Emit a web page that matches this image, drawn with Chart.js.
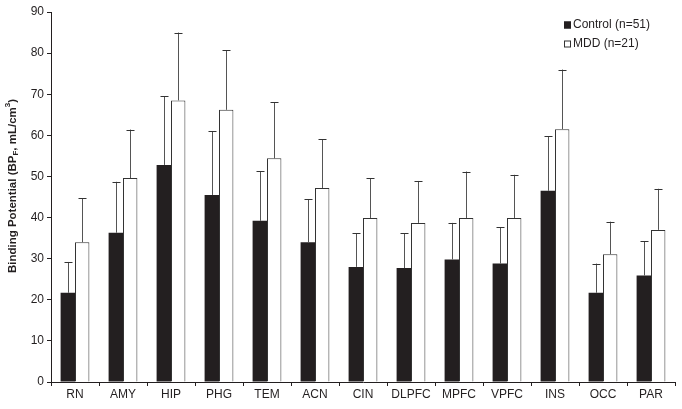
<!DOCTYPE html>
<html>
<head>
<meta charset="utf-8">
<script src="https://cdn.jsdelivr.net/npm/chart.js@4/dist/chart.umd.min.js"></script>
<style>
  html, body { margin: 0; padding: 0; background: #fff; }
  #wrap { width: 682px; height: 409px; }
</style>
</head>
<body>
<div id="wrap"><canvas id="chart" width="682" height="409"></canvas></div>
<script>
// regions and values
const regions = ['RN', 'AMY', 'HIP', 'PHG', 'TEM', 'ACN', 'CIN', 'DLPFC', 'MPFC', 'VPFC', 'INS', 'OCC', 'PAR'];
const controlMean = [21.7, 36.3, 52.8, 45.5, 39.2, 34.0, 28.0, 27.7, 29.8, 28.8, 46.5, 21.7, 25.9];
const controlSD   = [7.5, 12.4, 16.7, 15.5, 12.1, 10.4, 8.2, 8.5, 8.9, 8.8, 13.3, 7.1, 8.3];
const mddMean     = [34.0, 49.6, 68.5, 66.2, 54.4, 47.2, 39.9, 38.7, 39.9, 39.9, 61.5, 31.1, 37.0];
const mddSD       = [10.7, 11.8, 16.5, 14.5, 13.6, 11.8, 9.7, 10.2, 11.3, 10.5, 14.5, 7.9, 10.0];
const yTicks = [0, 10, 20, 30, 40, 50, 60, 70, 80, 90];

const INK = '#231f20';
const FONT = "'Liberation Sans', Arial, sans-serif";

// whiskers drawn upward from each bar top
const errorBars = {
  id: 'errorBars',
  afterDatasetsDraw(chart) {
    const ctx = chart.ctx;
    const y = chart.scales.y;
    ctx.save();
    chart.data.datasets.forEach((ds, i) => {
      const meta = chart.getDatasetMeta(i);
      meta.data.forEach((bar, j) => {
        const top = y.getPixelForValue(ds.data[j] + ds.sd[j]);
        const x = Math.round(bar.x) + 0.5;
        ctx.strokeStyle = '#555';
        ctx.lineWidth = 1;
        ctx.beginPath();
        ctx.moveTo(x, bar.y);
        ctx.lineTo(x, top);
        ctx.stroke();
        ctx.strokeStyle = '#333';
        ctx.beginPath();
        ctx.moveTo(x - 4, Math.round(top) + 0.5);
        ctx.lineTo(x + 4, Math.round(top) + 0.5);
        ctx.stroke();
      });
    });
    ctx.restore();
  }
};

// rotated y title with subscript / superscript parts
const yTitle = {
  id: 'yTitle',
  afterDraw(chart) {
    const ctx = chart.ctx;
    const parts = [
      { t: 'Binding Potential (BP', size: 11.5, dy: 0 },
      { t: 'F', size: 8, dy: 3 },
      { t: ', mL/cm', size: 11.5, dy: 0 },
      { t: '3', size: 8, dy: -5 },
      { t: ')', size: 11.5, dy: 0 },
    ];
    ctx.save();
    let total = 0;
    parts.forEach(p => {
      ctx.font = `bold ${p.size}px ${FONT}`;
      p.w = ctx.measureText(p.t).width;
      total += p.w;
    });
    ctx.translate(13, 186);
    ctx.rotate(-Math.PI / 2);
    ctx.fillStyle = INK;
    ctx.textBaseline = 'middle';
    let x = -total / 2;
    parts.forEach(p => {
      ctx.font = `bold ${p.size}px ${FONT}`;
      ctx.fillText(p.t, x, p.dy);
      x += p.w;
    });
    ctx.restore();
  }
};

// small legend in the upper right corner
const cornerLegend = {
  id: 'cornerLegend',
  afterDraw(chart) {
    const ctx = chart.ctx;
    ctx.save();
    ctx.font = `12px ${FONT}`;
    ctx.textBaseline = 'middle';
    chart.data.datasets.forEach((ds, i) => {
      const yy = 25 + i * 19;
      ctx.fillStyle = ds.backgroundColor;
      ctx.fillRect(564, yy - 3.5, 7, 7);
      ctx.strokeStyle = ds.borderColor;
      ctx.lineWidth = 1;
      ctx.strokeRect(564.5, yy - 3, 6, 6);
      ctx.fillStyle = INK;
      ctx.fillText(ds.label, 573, yy);
    });
    ctx.restore();
  }
};

new Chart(document.getElementById('chart'), {
  type: 'bar',
  data: {
    labels: regions,
    datasets: [
      {
        label: 'Control (n=51)',
        data: controlMean,
        sd: controlSD,
        backgroundColor: INK,
        borderColor: INK,
        borderWidth: 0,
      },
      {
        label: 'MDD (n=21)',
        data: mddMean,
        sd: mddSD,
        backgroundColor: '#ffffff',
        borderColor: '#333',
        borderWidth: 1,
      },
    ],
  },
  options: {
    responsive: false,
    animation: false,
    categoryPercentage: 0.6,
    barPercentage: 1.0,
    layout: { padding: { top: 12, right: 7, left: 0, bottom: 0 } },
    plugins: {
      legend: { display: false },
      tooltip: { enabled: false },
    },
    scales: {
      x: {
        grid: { drawOnChartArea: false, drawTicks: true, tickLength: 4, color: INK, offset: true },
        border: { color: INK },
        ticks: { color: INK, font: { family: FONT, size: 12 }, padding: 1 },
        afterFit: s => { s.height = 27; },
      },
      y: {
        min: 0,
        max: 90,
        afterBuildTicks: s => { s.ticks = yTicks.map(v => ({ value: v })); },
        grid: { drawOnChartArea: false, drawTicks: true, tickLength: 4, color: INK },
        border: { color: INK },
        ticks: { color: INK, font: { family: FONT, size: 12 }, padding: 3 },
        afterFit: s => { s.width = 51; },
      },
    },
  },
  plugins: [errorBars, yTitle, cornerLegend],
});
</script>
</body>
</html>
